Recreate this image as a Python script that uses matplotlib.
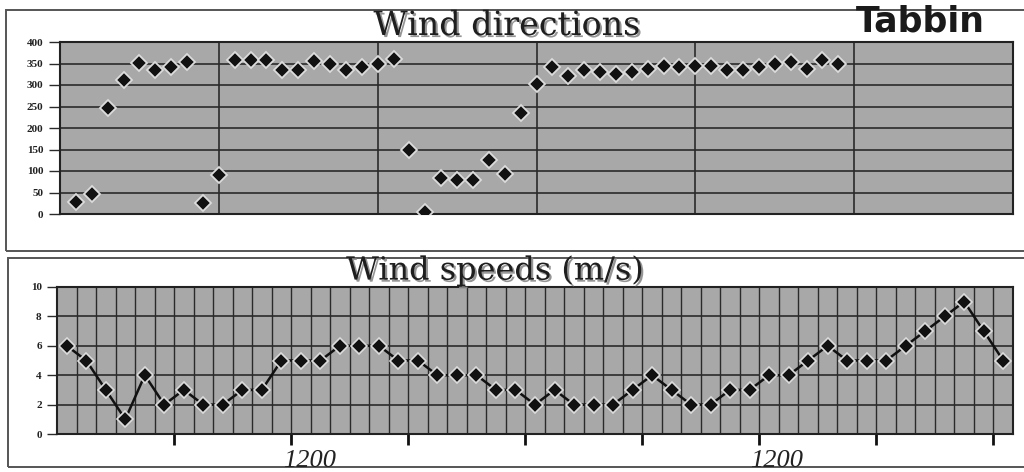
import matplotlib
matplotlib.use("Agg")
import matplotlib.pyplot as plt
import matplotlib.patheffects as pe
from matplotlib.patches import Rectangle
from matplotlib.ticker import FixedLocator
import numpy as np

# ---- data ----
direction_deg = [27, 47, 247, 312, 352, 334, 343, 353, 26, 90,
                 359, 359, 359, 336, 336, 355, 349, 336, 341, 350,
                 360, 150, 4, 83, 79, 79, 126, 93, 235, 302,
                 343, 320, 335, 331, 326, 330, 337, 345, 341, 344,
                 344, 336, 336, 343, 350, 354, 338, 357, 349]
speed_ms = [6, 5, 3, 1, 4, 2, 3, 2, 2, 3,
            3, 5, 5, 5, 6, 6, 6, 5, 5, 4,
            4, 4, 3, 3, 2, 3, 2, 2, 2, 3,
            4, 3, 2, 2, 3, 3, 4, 4, 5, 6,
            5, 5, 5, 6, 7, 8, 9, 7, 5]
dir_yticks = [0, 50, 100, 150, 200, 250, 300, 350, 400]
speed_yticks = [0, 2, 4, 6, 8, 10]
time_labels = ["1200", "1200"]
title_dir = "Wind directions"
title_speed = "Wind speeds (m/s)"
site_name = "Tabbin"

W, H = 1024, 472
fig = plt.figure(figsize=(W / 100, H / 100), dpi=100)
fig.patch.set_facecolor("white")


def box(x0, y0, x1, y1):
    return [x0 / W, 1 - y1 / H, (x1 - x0) / W, (y1 - y0) / H]


# outer frames
for (x0, y0, x1, y1) in [(6, 10, 1100, 251), (8, 258, 1100, 467)]:
    fig.add_artist(Rectangle((x0 / W, 1 - y1 / H), (x1 - x0) / W, (y1 - y0) / H,
                             transform=fig.transFigure, fill=False,
                             ec="#555555", lw=1.4))

PLOT_BG = "#a8a8a8"
GRID = "#2a2a2a"
serif = ["Liberation Serif", "DejaVu Serif"]

# ---- top: wind directions ----
ax1 = fig.add_axes(box(60, 42, 1013, 214))
ax1.set_facecolor(PLOT_BG)
xd = np.arange(1, len(direction_deg) + 1)
ax1.set_xlim(0, 60)
ax1.set_ylim(0, 400)
ax1.set_xticks([10, 20, 30, 40, 50])
ax1.set_yticks(dir_yticks)
ax1.tick_params(axis="x", length=0, labelbottom=False)
ax1.tick_params(axis="y", length=8, width=1, color=GRID, pad=4)
ax1.set_yticklabels([str(v) for v in dir_yticks], fontsize=8,
                    fontweight="bold", family=serif, color="#222222")
ax1.grid(True, color=GRID, lw=1.2)
ax1.set_axisbelow(True)
ax1.plot(xd, direction_deg, ls="none", marker="D", ms=8.5,
         mfc="#111111", mec="#dcdcdc", mew=1.3, zorder=3)
for s in ax1.spines.values():
    s.set_color("#222222")
    s.set_linewidth(1.5)

# ---- bottom: wind speeds ----
ax2 = fig.add_axes(box(57, 287, 1013, 434))
ax2.set_facecolor(PLOT_BG)
xs = np.arange(1, len(speed_ms) + 1)
ax2.set_xlim(0.5, len(speed_ms) + 0.5)
ax2.set_ylim(0, 10)
ax2.set_yticks(speed_yticks)
ax2.set_yticklabels([str(v) for v in speed_yticks], fontsize=8,
                    fontweight="bold", family=serif, color="#222222")
ax2.set_xticks(np.arange(6.5, len(speed_ms), 6))
ax2.xaxis.set_minor_locator(FixedLocator(np.arange(1.5, len(speed_ms), 1)))
ax2.xaxis.remove_overlapping_locs = False
ax2.tick_params(axis="x", which="major", length=8, width=2, color="#111111",
                labelbottom=False)
ax2.tick_params(axis="x", which="minor", length=0)
ax2.tick_params(axis="y", length=7, width=1, color=GRID, pad=4)
ax2.grid(True, axis="y", color=GRID, lw=1.2)
ax2.grid(True, axis="x", which="minor", color=GRID, lw=1.0)
ax2.set_axisbelow(True)
ax2.plot(xs, speed_ms, color="#111111", lw=1.8, marker="D", ms=8,
         mfc="#111111", mec="#dcdcdc", mew=1.2, zorder=3)
for s in ax2.spines.values():
    s.set_color("#222222")
    s.set_linewidth(1.5)

# ---- texts ----
shadow = [pe.withSimplePatchShadow(offset=(1.5, -1.5), shadow_rgbFace="#8a8a8a",
                                   alpha=0.9)]
fig.text(507 / W, 1 - 26 / H, title_dir, ha="center", va="center",
         fontsize=24, family=["DejaVu Serif"], color="#1e1e1e",
         path_effects=shadow)
fig.text(495 / W, 1 - 271 / H, title_speed, ha="center", va="center",
         fontsize=23, family=["DejaVu Serif"], color="#1e1e1e",
         path_effects=shadow)
fig.text(920 / W, 1 - 22 / H, site_name, ha="center", va="center",
         fontsize=25, fontweight="bold", family=["DejaVu Sans"], color="#1a1a1a")
for lbl, xpx in zip(time_labels, [310, 777]):
    fig.text(xpx / W, 1 - 461 / H, lbl, ha="center", va="center",
             fontsize=19, style="italic", family=serif, color="#222222")

fig.savefig("out.png", dpi=100, facecolor="white")
